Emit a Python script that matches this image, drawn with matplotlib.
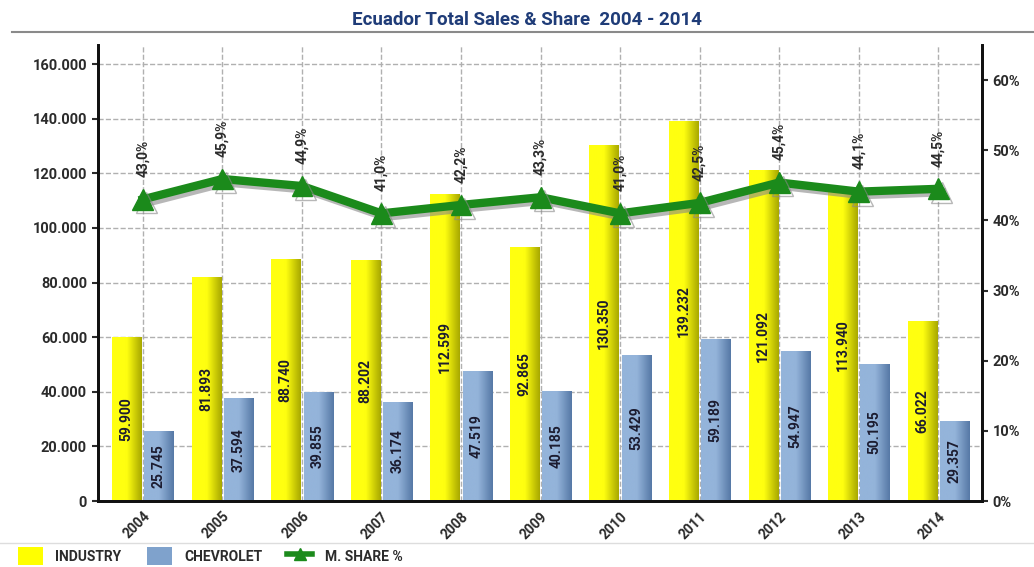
import numpy as np
import matplotlib
matplotlib.use("Agg")
import matplotlib.pyplot as plt
from matplotlib.lines import Line2D
from matplotlib.patches import Patch
from matplotlib.ticker import FuncFormatter, MultipleLocator
import matplotlib.patheffects as pe

plt.rcParams["font.family"] = ["Roboto", "DejaVu Sans"]

years = ["2004", "2005", "2006", "2007", "2008", "2009", "2010", "2011", "2012", "2013", "2014"]
industry = [59900, 81893, 88740, 88202, 112599, 92865, 130350, 139232, 121092, 113940, 66022]
chevrolet = [25745, 37594, 39855, 36174, 47519, 40185, 53429, 59189, 54947, 50195, 29357]
share = [43.0, 45.9, 44.9, 41.0, 42.2, 43.3, 41.0, 42.5, 45.4, 44.1, 44.5]

TXT = "#2b2b2b"
GREEN = "#1b8a1b"

fig = plt.figure(figsize=(10.34, 5.67), dpi=100)
ax = fig.add_axes([0.0943, 0.1164, 0.8554, 0.8042])
ax2 = ax.twinx()

x = np.arange(len(years))
w = 0.365


def thousands(v, pos):
    return f"{int(v):,}".replace(",", ".")


def shade_bars(bars, left, right):
    # horizontal gradient inside each bar
    grad = np.linspace(0, 1, 64).reshape(1, -1)
    cmap = matplotlib.colors.LinearSegmentedColormap.from_list("g", [left, left, right])
    for b in bars:
        bx, bw, bh = b.get_x(), b.get_width(), b.get_height()
        im = ax.imshow(grad, extent=[bx, bx + bw, 0, bh], aspect="auto",
                       cmap=cmap, zorder=2, interpolation="bicubic")
        im.set_clip_path(b)


bars_ind = ax.bar(x - w / 2 - 0.02, industry, w, color="#f0f000", zorder=2)
bars_chev = ax.bar(x + w / 2 + 0.02, chevrolet, w, color="#7a9cc6", zorder=2)
shade_bars(bars_ind, "#ffff10", "#a8a800")
shade_bars(bars_chev, "#94b4da", "#5679a6")

for bars, vals in ((bars_ind, industry), (bars_chev, chevrolet)):
    for b, v in zip(bars, vals):
        ax.text(b.get_x() + b.get_width() / 2, v / 2, thousands(v, None),
                rotation=90, ha="center", va="center", fontsize=10,
                fontweight="bold", color="#1c1c30", zorder=4)

ax.set_xlim(-0.57, 10.55)
ax.set_ylim(0, 167000)
ax.yaxis.set_major_locator(MultipleLocator(20000))
ax.yaxis.set_major_formatter(FuncFormatter(thousands))
ax.set_xticks(x)
ax.set_xticklabels(years, rotation=45, ha="right", va="top", rotation_mode="anchor",
                   fontsize=10, fontweight="bold", color=TXT)
ax.grid(True, color="#b0b0b0", linestyle="--", linewidth=1, zorder=0)
ax.set_axisbelow(True)

ax2.plot(x, share, color=GREEN, linewidth=6, marker="^", markersize=15,
         markeredgecolor=GREEN, zorder=5,
         path_effects=[pe.SimpleLineShadow(offset=(2.5, -2.5), shadow_color="#888888", alpha=0.6),
                       pe.Normal()])
for xi, s in zip(x, share):
    ax2.annotate(f"{s:.1f}%".replace(".", ","), (xi, s), xytext=(0, 16),
                 textcoords="offset points", rotation=90, ha="center", va="bottom",
                 fontsize=10, fontweight="bold", color=TXT)
ax2.set_ylim(0, 65)
ax2.yaxis.set_major_locator(MultipleLocator(10))
ax2.yaxis.set_major_formatter(FuncFormatter(lambda v, p: f"{int(v)}%"))

for a in (ax, ax2):
    a.spines["top"].set_visible(False)
    for s in ("left", "right", "bottom"):
        a.spines[s].set_linewidth(2)
        a.spines[s].set_color("#111111")
    a.tick_params(axis="y", length=4, width=1.5, labelsize=10.5, colors=TXT)
    for lab in a.get_yticklabels():
        lab.set_fontweight("bold")
ax.tick_params(axis="x", length=0, pad=6)
ax2.set_zorder(ax.get_zorder() + 1)
ax2.patch.set_visible(False)

fig.text(0.51, 0.965, "Ecuador Total Sales & Share  2004 - 2014", ha="center", va="center",
         fontsize=13.5, fontweight="bold", color="#1f3c78")
fig.add_artist(Line2D([0.012, 1.0], [0.944, 0.944], color="#8a8a8a", linewidth=1.5))
fig.add_artist(Line2D([0.0, 1.0], [0.043, 0.043], color="#dddddd", linewidth=1))

handles = [Patch(facecolor="#ffff00", edgecolor="none"),
           Patch(facecolor="#7fa2cc", edgecolor="none"),
           Line2D([0], [0], color=GREEN, linewidth=4, marker="^", markersize=8)]
fig.legend(handles, ["INDUSTRY", "CHEVROLET", "M. SHARE %"], loc="upper left",
           bbox_to_anchor=(0.012, 0.045), ncol=3, frameon=False,
           handlelength=1.8, handleheight=1.6, columnspacing=1.8, handletextpad=0.9,
           prop={"weight": "bold", "size": 10}, labelcolor=TXT, borderaxespad=0)

fig.savefig("out.png", dpi=100)
